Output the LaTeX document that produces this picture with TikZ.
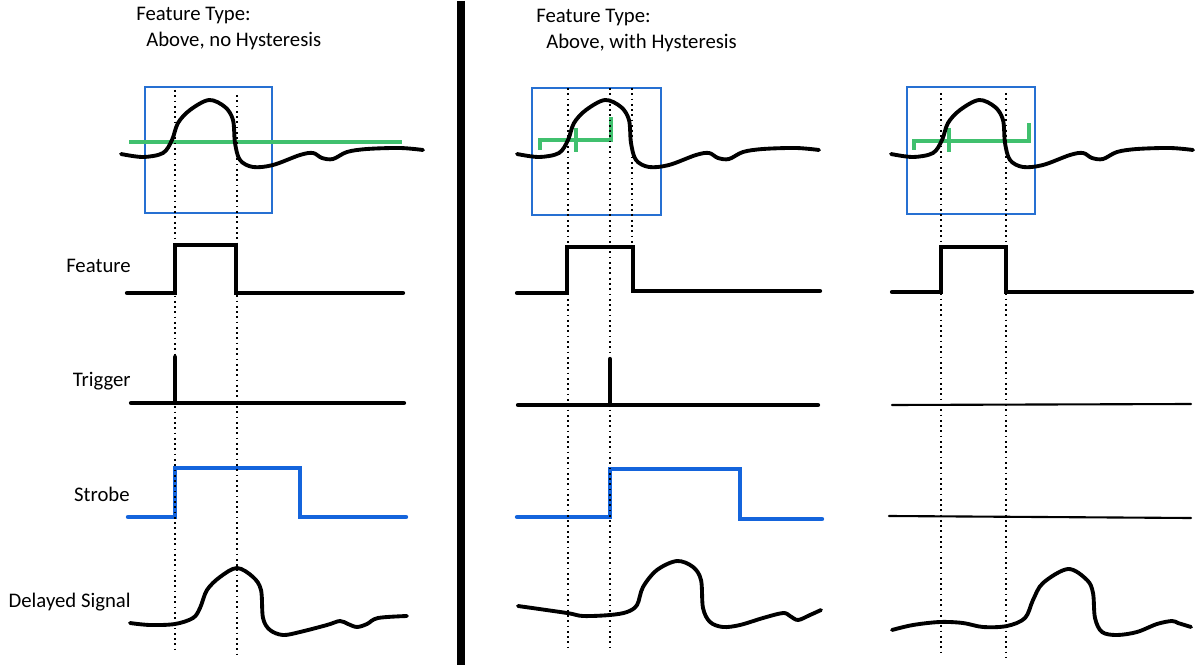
\documentclass[tikz,border=0pt]{standalone}
\usepackage{fontspec}
\setmainfont{Carlito}
\usepackage{tikz}
\usetikzlibrary{positioning}

\definecolor{boxblue}{RGB}{38,112,210}
\definecolor{strobeblue}{RGB}{20,100,220}
\definecolor{levelgreen}{RGB}{64,192,110}

\begin{document}
\begin{tikzpicture}[x=0.02cm, y=-0.02cm,
	every node/.style={inner sep=0pt, font=\fontsize{11.8}{14}\selectfont},
	wave/.style={line width=2.2pt, line cap=round, line join=round},
	pulse/.style={line width=2.4pt, line cap=round},
	flat/.style={line width=1.2pt, line cap=round},
	strobeline/.style={line width=2.5pt, line cap=round, strobeblue},
	window/.style={line width=0.9pt, boxblue},
	level/.style={line width=2.1pt, levelgreen},
	guide/.style={line width=1pt, dotted}]
	\useasboundingbox (0, 0) rectangle (1203, 665);

	% Labels:
	\node[anchor=base west] (type1) at (136, 21) {Feature Type:};
	\node[anchor=base west] (mode1) at (146, 47) {Above, no Hysteresis};
	\node[anchor=base west] (type2) at (536, 23) {Feature Type:};
	\node[anchor=base west] (mode2) at (546, 49) {Above, with Hysteresis};
	\node[anchor=base east] (lfeature) at (131, 273) {Feature};
	\node[anchor=base east] (ltrigger) at (131, 386) {Trigger};
	\node[anchor=base east] (lstrobe) at (130, 501) {Strobe};
	\node[anchor=base east] (ldelayed) at (131, 607) {Delayed Signal};

	% Divider:
	\draw[line width=4.6pt] (461, 1) -- (461, 665);

	% Windows and thresholds:
	\draw[window] (145, 87) rectangle (272, 213);
	\draw[window] (532, 88) rectangle (661, 215);
	\draw[window] (907, 87) rectangle (1035, 214);
	\draw[level] (129, 142) -- (402, 142);
	\draw[level] (540, 150) -- (540, 140) -- (611, 140) -- (611, 117);
	\draw[level] (576, 128) -- (576, 152);
	\draw[level] (914, 150) -- (914, 141) -- (1029, 141) -- (1029, 123);
	\draw[level] (949, 128) -- (949, 152);

	% Input signal:
	\foreach \s in {0, 396, 770} {
		\draw[wave, shift={(\s, 0)}] plot[smooth, tension=0.55] coordinates {
			(121, 154) (143, 157) (163, 153) (172, 140) (178, 123) (190, 110)
			(209, 100) (225, 107) (233, 120) (235, 143) (240, 160) (253, 167)
			(273, 165) (300, 155) (313, 153) (322, 158) (333, 159) (347, 152)
			(367, 149) (400, 148) (423, 150)};
	}

	% Feature:
	\draw[pulse] (127, 293) -- (175, 293) -- (175, 245) -- (236, 245) -- (236, 293) -- (403, 293);
	\draw[pulse] (517, 293) -- (567, 293) -- (567, 247) -- (633, 247) -- (633, 291) -- (820, 291);
	\draw[pulse] (892, 292) -- (941, 292) -- (941, 247) -- (1006, 247) -- (1006, 292) -- (1192, 292);

	% Trigger:
	\draw[pulse] (131, 403) -- (404, 403);
	\draw[pulse] (175, 403) -- (175, 357);
	\draw[pulse] (518, 405) -- (818, 405);
	\draw[pulse] (610, 405) -- (610, 359);
	\draw[flat] (892, 405) -- (1191, 404);

	% Strobe:
	\draw[strobeline] (128, 517) -- (175, 517) -- (175, 468) -- (300, 468) -- (300, 517) -- (406, 517);
	\draw[strobeline] (517, 517) -- (610, 517) -- (610, 469) -- (740, 469) -- (740, 519) -- (822, 519);
	\draw[flat] (889, 516) -- (1191, 518);

	% Delayed signal:
	\draw[wave] plot[smooth, tension=0.55] coordinates {
		(130, 623) (150, 625) (175, 624) (193, 618) (200, 608) (207, 590) (220, 577)
		(237, 568) (253, 577) (261, 590) (263, 618) (270, 630) (283, 635) (300, 632)
		(327, 625) (340, 621) (348, 624) (357, 627) (367, 624) (378, 618) (407, 616)};
	\draw[wave] plot[smooth, tension=0.55] coordinates {
		(518, 606) (567, 613) (583, 616) (610, 615) (627, 612) (637, 605) (643, 587)
		(657, 570) (677, 561) (693, 567) (701, 580) (703, 608) (710, 622) (723, 627)
		(740, 625) (763, 618) (783, 613) (790, 616) (798, 620) (810, 615) (821, 610)};
	\draw[wave] plot[smooth, tension=0.55] coordinates {
		(892, 630) (913, 625) (940, 622) (963, 623) (983, 627) (1007, 626) (1025, 618)
		(1033, 600) (1043, 583) (1068, 569) (1087, 580) (1093, 593) (1095, 618)
		(1102, 632) (1117, 635) (1137, 632) (1157, 624) (1172, 621) (1178, 623) (1191, 627)};

	% Guides:
	\draw[guide] (175, 90) -- (175, 653);
	\draw[guide] (237, 95) -- (237, 658);
	\draw[guide] (568, 88) -- (568, 648);
	\draw[guide] (610, 88) -- (610, 648);
	\draw[guide] (632, 88) -- (632, 243);
	\draw[guide] (941, 93) -- (941, 655);
	\draw[guide] (1006, 93) -- (1006, 658);

\end{tikzpicture}
\end{document}
